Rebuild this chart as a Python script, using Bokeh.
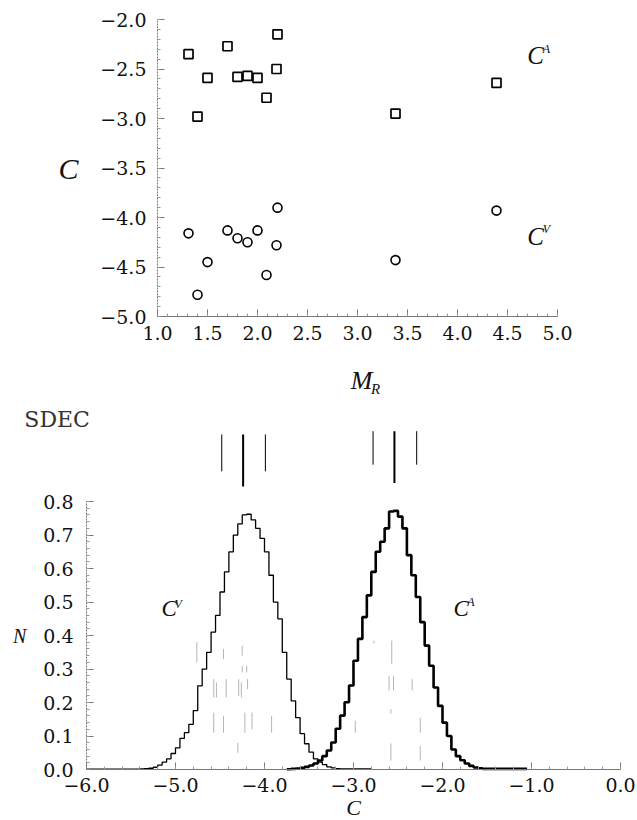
from bokeh.plotting import figure
from bokeh.layouts import column
from bokeh.models import Range1d, FixedTicker, Label
from bokeh.embed import file_html
from bokeh.resources import INLINE

# ---------------- top panel: C vs M_R ----------------
m_r = [1.31, 1.50, 1.40, 1.70, 1.80, 1.90, 2.00, 2.09, 2.20, 2.19, 4.39, 3.38]
c_a = [-2.35, -2.59, -2.98, -2.27, -2.58, -2.57, -2.59, -2.79, -2.15, -2.50, -2.64, -2.95]
c_v = [-4.16, -4.45, -4.78, -4.13, -4.21, -4.25, -4.13, -4.58, -3.90, -4.28, -3.93, -4.43]

top_xticks = [1.0, 1.5, 2.0, 2.5, 3.0, 3.5, 4.0, 4.5, 5.0]
top_xlabels = ["1.0", "1.5", "2.0", "2.5", "3.0", "3.5", "4.0", "4.5", "5.0"]
top_yticks = [-2.0, -2.5, -3.0, -3.5, -4.0, -4.5, -5.0]
top_ylabels = ["\u22122.0", "\u22122.5", "\u22123.0", "\u22123.5", "\u22124.0", "\u22124.5", "\u22125.0"]

# ---------------- bottom panel: histograms ----------------
bin_w = 0.05
cv_start = -6.00
cv_hist = [0.001, 0.001, 0.001, 0.001, 0.001, 0.001, 0.001, 0.001, 0.001, 0.001, 0.001, 0.001,
           0.002, 0.003, 0.004, 0.007, 0.013, 0.022, 0.032, 0.048, 0.065, 0.093, 0.110, 0.135,
           0.176, 0.250, 0.300, 0.350, 0.410, 0.460, 0.530, 0.590, 0.650, 0.700, 0.733, 0.760,
           0.762, 0.745, 0.720, 0.690, 0.650, 0.580, 0.500, 0.450, 0.350, 0.270, 0.205, 0.155,
           0.107, 0.077, 0.052, 0.032, 0.022, 0.015, 0.008, 0.005, 0.003, 0.002, 0.002, 0.002,
           0.002, 0.002, 0.002, 0.002]
ca_start = -3.75
ca_hist = [0.001, 0.002, 0.003, 0.005, 0.008, 0.012, 0.018, 0.027, 0.040, 0.057, 0.081, 0.122,
           0.161, 0.201, 0.251, 0.325, 0.390, 0.455, 0.520, 0.590, 0.650, 0.680, 0.720, 0.770,
           0.772, 0.755, 0.720, 0.640, 0.580, 0.515, 0.440, 0.370, 0.310, 0.245, 0.190, 0.140,
           0.100, 0.060, 0.040, 0.028, 0.018, 0.011, 0.006, 0.004, 0.002, 0.002, 0.002, 0.002,
           0.002, 0.002, 0.002, 0.002, 0.002, 0.002]

# SDEC marks (centre value and +/- spread)
sdec_x = [-4.48, -4.24, -3.99, -2.78, -2.54, -2.29]
sdec_top = [1.00, 1.00, 1.00, 1.01, 1.01, 1.01]
sdec_bot = [0.89, 0.845, 0.89, 0.91, 0.855, 0.91]
sdec_w = [1, 2, 1, 1, 2, 1]

# faint grey marks inside the lower panel
g_x = [-4.76, -4.46, -4.25, -4.25, -4.20, -4.57, -4.54, -4.43, -4.29, -4.26, -4.19,
       -4.57, -4.46, -4.22, -4.14, -3.92, -4.30,
       -2.77, -2.57, -2.60, -2.55, -2.34, -2.98, -2.58, -2.25, -2.58, -2.25]
g_y0 = [0.32, 0.33, 0.34, 0.29, 0.29, 0.215, 0.215, 0.215, 0.22, 0.215, 0.24,
        0.11, 0.11, 0.11, 0.12, 0.11, 0.05,
        0.376, 0.316, 0.236, 0.236, 0.236, 0.11, 0.167, 0.11, 0.027, 0.027]
g_y1 = [0.38, 0.36, 0.37, 0.31, 0.31, 0.27, 0.26, 0.27, 0.27, 0.26, 0.27,
        0.17, 0.16, 0.17, 0.17, 0.16, 0.08,
        0.385, 0.385, 0.28, 0.28, 0.27, 0.146, 0.18, 0.155, 0.078, 0.07]

bot_xticks = [-6.0, -5.0, -4.0, -3.0, -2.0, -1.0, 0.0]
bot_xlabels = ["\u22126.0", "\u22125.0", "\u22124.0", "\u22123.0", "\u22122.0", "\u22121.0", "0.0"]
bot_yticks = [0.0, 0.1, 0.2, 0.3, 0.4, 0.5, 0.6, 0.7, 0.8]
bot_ylabels = ["0.0", "0.1", "0.2", "0.3", "0.4", "0.5", "0.6", "0.7", "0.8"]

SERIF = "DejaVu Serif"
ITAL = "Liberation Serif"
INK = "#111111"
AX = "#777777"


def style_axes(p, xt, xl, yt, yl, xminor, yminor, xb, yb, xloc, yloc):
    p.xaxis.ticker = FixedTicker(ticks=xt, minor_ticks=xminor)
    p.yaxis.ticker = FixedTicker(ticks=yt, minor_ticks=yminor)
    p.xaxis.major_label_overrides = dict(zip(xt, xl))
    p.yaxis.major_label_overrides = dict(zip(yt, yl))
    p.xaxis.bounds = xb
    p.yaxis.bounds = yb
    p.xaxis.fixed_location = xloc
    p.yaxis.fixed_location = yloc
    for ax in (p.xaxis, p.yaxis):
        ax.axis_line_color = AX
        ax.major_tick_line_color = AX
        ax.minor_tick_line_color = "#999999"
        ax.major_tick_out = 0
        ax.major_tick_in = 7
        ax.minor_tick_out = 0
        ax.minor_tick_in = 3
        ax.major_label_text_font = SERIF
        ax.major_label_text_font_size = "19px"
        ax.major_label_text_color = INK
    p.yaxis.axis_line_dash = "2 1"
    p.xgrid.visible = False
    p.ygrid.visible = False
    p.outline_line_color = None


def add_text(p, items):
    for txt, x, y, size, font, style, col in items:
        p.add_layout(Label(x=x, y=y, text=txt, text_font=font, text_font_style=style,
                           text_font_size=size, text_align="center", text_baseline="middle",
                           text_color=col))


# ---------------- top figure (frame = whole canvas, axes pinned) ----------------
top = figure(width=637, height=400, x_range=Range1d(-0.57, 5.80), y_range=Range1d(-5.848, -1.808),
             output_backend="svg", toolbar_location=None, min_border=0)
style_axes(top, top_xticks, top_xlabels, top_yticks, top_ylabels,
           [round(1.0 + 0.1 * i, 2) for i in range(41)],
           [round(-5.0 + 0.1 * i, 2) for i in range(31)],
           (1.0, 5.0), (-5.0, -2.0), -5.0, 1.0)
top.xaxis.major_label_standoff = 9
top.yaxis.major_label_standoff = 11

top.scatter(m_r, c_a, marker="square", size=9, fill_color=None, line_color="black", line_width=1.7)
top.scatter(m_r, c_v, marker="circle", size=9, fill_color=None, line_color="black", line_width=1.6)

add_text(top, [
    ("C", 4.78, -2.36, "25px", ITAL, "italic", INK),
    ("A", 4.89, -2.30, "12px", ITAL, "italic", INK),
    ("C", 4.78, -4.19, "25px", ITAL, "italic", INK),
    ("V", 4.89, -4.12, "12px", ITAL, "italic", INK),
    ("C", 0.11, -3.50, "30px", ITAL, "italic", INK),
    ("M", 3.04, -5.65, "26px", ITAL, "italic", INK),
    ("R", 3.18, -5.73, "15px", ITAL, "italic", INK),
])

# ---------------- bottom figure ----------------
bot = figure(width=637, height=420, x_range=Range1d(-6.966, 0.191), y_range=Range1d(-0.152, 1.1015),
             output_backend="svg", toolbar_location=None, min_border=0)
style_axes(bot, bot_xticks, bot_xlabels, bot_yticks, bot_ylabels,
           [round(-6.0 + 0.2 * i, 2) for i in range(31)],
           [round(0.02 * i, 2) for i in range(41)],
           (-6.0, 0.0), (0.0, 0.8), 0.0, -6.0)
bot.xaxis.major_label_standoff = 8
bot.yaxis.major_label_standoff = 13

bot.segment(x0=g_x, y0=g_y0, x1=g_x, y1=g_y1, line_color="#b5b5b5", line_width=1)

cv_edges = [round(cv_start + bin_w * i, 3) for i in range(len(cv_hist) + 1)]
ca_edges = [round(ca_start + bin_w * i, 3) for i in range(len(ca_hist) + 1)]
bot.step(cv_edges, cv_hist + [cv_hist[-1]], mode="after", line_color="black", line_width=1.3)
bot.step(ca_edges, ca_hist + [ca_hist[-1]], mode="after", line_color="black", line_width=2.6)

bot.segment(x0=sdec_x, y0=sdec_bot, x1=sdec_x, y1=sdec_top, line_color="black", line_width=sdec_w)

add_text(bot, [
    ("SDEC", -6.33, 1.045, "22px", SERIF, "normal", "#333333"),
    ("C", -5.07, 0.48, "23px", ITAL, "italic", INK),
    ("V", -4.97, 0.495, "12px", ITAL, "italic", INK),
    ("C", -1.79, 0.48, "23px", ITAL, "italic", INK),
    ("A", -1.68, 0.50, "12px", ITAL, "italic", INK),
    ("N", -6.75, 0.40, "20px", ITAL, "italic", INK),
    ("C", -3.0, -0.113, "22px", ITAL, "italic", INK),
])

layout = column(top, bot, spacing=0)
open("out.html", "w").write(file_html(layout, INLINE))
